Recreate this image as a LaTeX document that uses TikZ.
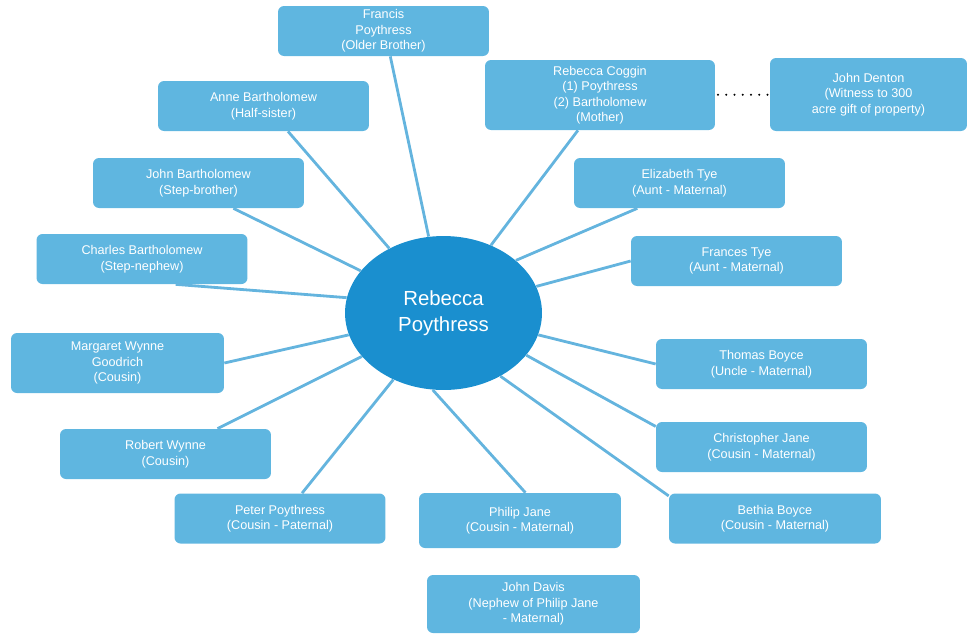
\documentclass[tikz,border=0pt]{standalone}
\usepackage{fontspec}
\setmainfont{Liberation Sans}
\usetikzlibrary{shapes.geometric}

\definecolor{boxblue}{RGB}{95,182,224}
\definecolor{hubblue}{RGB}{26,143,207}
\definecolor{lineblue}{RGB}{100,180,222}

\tikzset{
  relbox/.style={shape=rectangle, rounded corners=0.12cm, fill=boxblue, text=white,
    align=center, inner sep=0pt, minimum width=4.22cm, minimum height=1cm,
    font=\fontsize{7.2}{8.8}\selectfont},
  hub/.style={shape=ellipse, fill=hubblue, text=white, align=center, inner sep=0pt,
    minimum width=3.94cm, minimum height=3.08cm, font=\fontsize{11.6}{14.8}\selectfont},
  tie/.style={draw=lineblue, line width=1.6pt},
  witness/.style={draw=black, line width=1.3pt, line cap=round, dash pattern=on 0pt off 4.7pt,
    shorten <=1.5pt},
}

\begin{document}
\begin{tikzpicture}[x=0.02cm, y=-0.02cm]

	\useasboundingbox (0,0) rectangle (969,633);

	\node[hub] (rebecca) at (443.5, 313) {Rebecca\\Poythress};

	\node[relbox] (francis)     at (383.5, 31)   {Francis\\Poythress\\(Older Brother)};
	\node[relbox, minimum width=4.6cm, minimum height=1.4cm]
	                (coggin)      at (600, 95)     {Rebecca Coggin\\(1) Poythress\\(2) Bartholomew\\(Mother)};
	\node[relbox, minimum width=3.94cm, minimum height=1.46cm]
	                (denton)      at (868.5, 94.5) {John Denton\\(Witness to 300\\acre gift of property)};
	\node[relbox] (anne)        at (263.5, 106)  {Anne Bartholomew\\(Half-sister)};
	\node[relbox] (johnb)       at (198.5, 183)  {John Bartholomew\\(Step-brother)};
	\node[relbox] (elizabeth)   at (679.5, 183)  {Elizabeth Tye\\(Aunt - Maternal)};
	\node[relbox] (charles)     at (142, 259)    {Charles Bartholomew\\(Step-nephew)};
	\node[relbox] (frances)     at (736.5, 261)  {Frances Tye\\(Aunt - Maternal)};
	\node[relbox, minimum width=4.26cm, minimum height=1.2cm]
	                (margaret)    at (117.5, 363)  {Margaret Wynne\\Goodrich\\(Cousin)};
	\node[relbox] (thomas)      at (761.5, 364)  {Thomas Boyce\\(Uncle - Maternal)};
	\node[relbox] (robert)      at (165.5, 454)  {Robert Wynne\\(Cousin)};
	\node[relbox] (christopher) at (761.5, 447)  {Christopher Jane\\(Cousin - Maternal)};
	\node[relbox] (peter)       at (280, 518.5)  {Peter Poythress\\(Cousin - Paternal)};
	\node[relbox, minimum width=4.04cm, minimum height=1.1cm]
	                (philip)      at (520, 520.5)  {Philip Jane\\(Cousin - Maternal)};
	\node[relbox, minimum width=4.24cm]
	                (bethia)      at (775, 518.5)  {Bethia Boyce\\(Cousin - Maternal)};
	\node[relbox, minimum width=4.26cm, minimum height=1.16cm]
	                (davis)       at (533.5, 604)  {John Davis\\(Nephew of Philip Jane\\- Maternal)};

	% spokes from the hub out to each relative
	\path[tie] (rebecca.101.9) edge (francis.-75.4);
	\path[tie] (rebecca.55.3)  edge (coggin.-122);
	\path[tie] (rebecca.130.6) edge (anne.-46.8);
	\path[tie] (rebecca.153.3) edge (johnb.-36);
	\path[tie] (rebecca.36.3)  edge (elizabeth.-149.5);
	\path[tie] (rebecca.171.3) edge (charles.-37);
	\path[tie] (rebecca.16.5)  edge (frances.west);
	\path[tie] (rebecca.-167)  edge (margaret.east);
	\path[tie] (rebecca.-13.1) edge (thomas.west);
	\path[tie] (rebecca.-152.2) edge (robert.26.8);
	\path[tie] (rebecca.-27.8) edge (christopher.169.9);
	\path[tie] (rebecca.-127.5) edge (peter.49.2);
	\path[tie] (rebecca.-98)   edge (philip.79.7);
	\path[tie] (rebecca.-48.6) edge (bethia.168.6);

	\path[witness] (coggin) edge (denton);

\end{tikzpicture}
\end{document}
